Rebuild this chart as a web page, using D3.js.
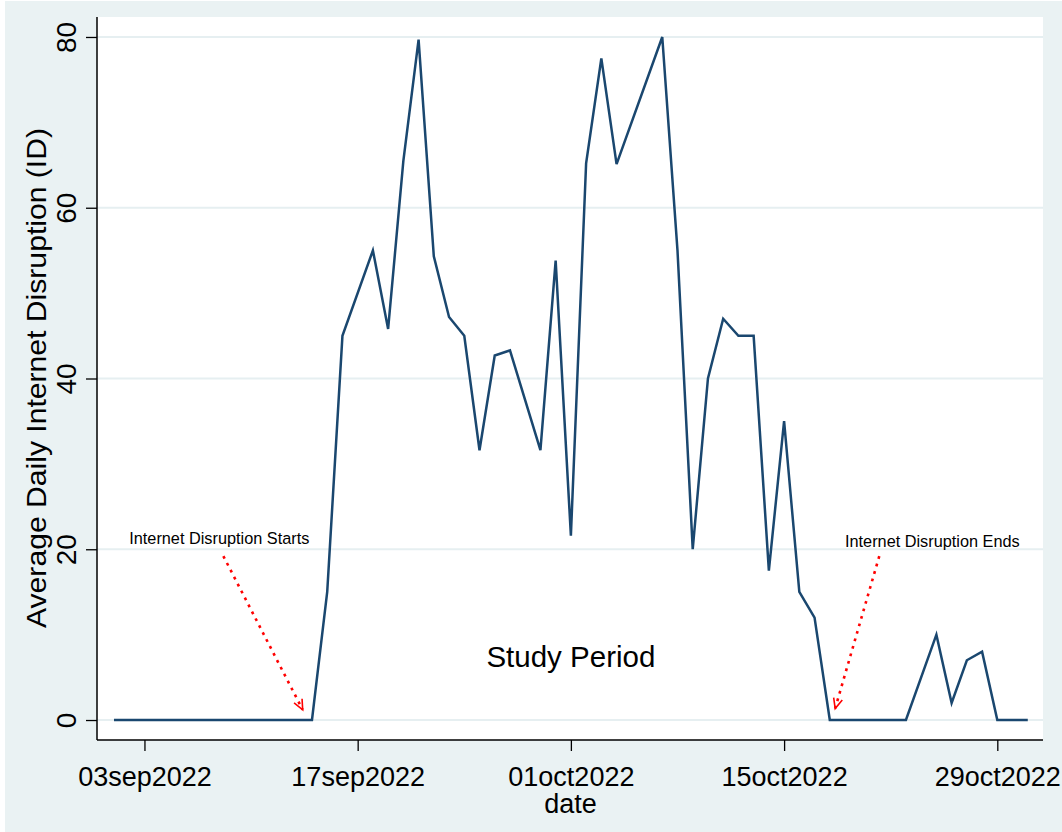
<!DOCTYPE html>
<html>
<head>
<meta charset="utf-8">
<script src="https://cdn.jsdelivr.net/npm/d3@7/dist/d3.min.js"></script>
<style>
  html, body { margin: 0; padding: 0; background: #ffffff; }
  svg { display: block; }
  text { font-family: "Liberation Sans", Arial, sans-serif; fill: #000; }
</style>
</head>
<body>
<svg id="chart" width="1062" height="832"></svg>
<script>
// Daily average internet disruption (ID), Sep–Oct 2022
const dates = [
  "2022-09-01","2022-09-02","2022-09-03","2022-09-04","2022-09-05","2022-09-06","2022-09-07",
  "2022-09-08","2022-09-09","2022-09-10","2022-09-11","2022-09-12","2022-09-13","2022-09-14",
  "2022-09-15","2022-09-16","2022-09-18","2022-09-19","2022-09-20","2022-09-21","2022-09-22",
  "2022-09-23","2022-09-24","2022-09-25","2022-09-26","2022-09-27","2022-09-29","2022-09-30",
  "2022-10-01","2022-10-02","2022-10-03","2022-10-04","2022-10-07","2022-10-08","2022-10-09",
  "2022-10-10","2022-10-11","2022-10-12","2022-10-13","2022-10-14","2022-10-15","2022-10-16",
  "2022-10-17","2022-10-18","2022-10-19","2022-10-20","2022-10-21","2022-10-22","2022-10-23",
  "2022-10-25","2022-10-26","2022-10-27","2022-10-28","2022-10-29","2022-10-30","2022-10-31"
];
const disruption = [
  0,0,0,0,0,0,0,
  0,0,0,0,0,0,0,
  15,45,55,45.8,65.5,79.7,54.3,
  47.2,45,31.6,42.7,43.3,31.6,53.8,
  21.6,65.2,77.5,65.1,80,55,20,
  40,47,45,45,17.5,35,15,
  12,0,0,0,0,0,0,
  10,2,7,8,0,0,0
];

// Axis ticks
const xTickDates = ["2022-09-03","2022-09-17","2022-10-01","2022-10-15","2022-10-29"];
const xTickLabels = ["03sep2022","17sep2022","01oct2022","15oct2022","29oct2022"];
const yTicks = [0, 20, 40, 60, 80];

// Annotations (anchored in data coordinates)
const noteLabels = ["Internet Disruption Starts", "Internet Disruption Ends"];
const noteTextAt = [["2022-09-02T00:00", 20.6], ["2022-10-19T00:00", 20.3]];
const noteArrowFrom = [["2022-09-08T04:20", 19.2], ["2022-10-21T06:00", 19.2]];
const noteArrowTo = [["2022-09-13T09:20", 1.2], ["2022-10-18T08:30", 1.35]];
const periodLabel = "Study Period";
const periodAt = ["2022-10-01T00:00", 6.2];

const parse = s => new Date(s.length > 10 ? s + "Z" : s + "T00:00Z");
const DAY = 864e5;
const t0 = parse("2022-09-01").getTime();

const svg = d3.select("#chart");
const W = 1062, H = 832;
const plot = { left: 97, right: 1043, top: 17, bottom: 740 };

// Graph region background
svg.append("rect").attr("x", 5).attr("y", 1).attr("width", W - 5).attr("height", H - 1)
  .attr("fill", "#eaf2f3");
svg.append("rect").attr("x", plot.left).attr("y", plot.top)
  .attr("width", plot.right - plot.left).attr("height", plot.bottom - plot.top)
  .attr("fill", "#ffffff");

const x = d3.scaleUtc()
  .domain([new Date(t0 - 1.116 * DAY), new Date(t0 + 61.0 * DAY)])
  .range([plot.left, plot.right]);
const y = d3.scaleLinear()
  .domain([-2.34, 82.34])
  .range([plot.bottom, plot.top]);

// Horizontal grid lines
svg.append("g").selectAll("line").data(yTicks).join("line")
  .attr("x1", plot.left).attr("x2", plot.right)
  .attr("y1", d => y(d)).attr("y2", d => y(d))
  .attr("stroke", "#e6eff1").attr("stroke-width", 2);

// Series line
const series = dates.map((d, i) => ({ date: parse(d), value: disruption[i] }));
svg.append("path").datum(series)
  .attr("fill", "none")
  .attr("stroke", "#1a476f")
  .attr("stroke-width", 2.5)
  .attr("stroke-linejoin", "miter")
  .attr("d", d3.line().x(d => x(d.date)).y(d => y(d.value)));

// Y axis
const yAxis = svg.append("g").attr("transform", `translate(${plot.left},0)`)
  .call(d3.axisLeft(y).tickValues(yTicks).tickSize(11).tickPadding(0).tickFormat(d3.format("d")));
yAxis.select(".domain").attr("d", `M0,${plot.top}V${plot.bottom}`).attr("stroke", "#000").attr("stroke-width", 1.5);
yAxis.selectAll(".tick line").attr("stroke", "#000").attr("stroke-width", 1.3);
yAxis.selectAll(".tick text")
  .attr("x", 0).attr("dy", 0).attr("y", 0)
  .attr("text-anchor", "middle")
  .attr("font-size", 28)
  .attr("fill", "#000")
  .style("font-family", "'Liberation Sans', Arial, sans-serif")
  .attr("transform", "translate(-21,0) rotate(-90)");

// X axis
const xAxis = svg.append("g").attr("transform", `translate(0,${plot.bottom})`)
  .call(d3.axisBottom(x).tickValues(xTickDates.map(parse)).tickSize(11).tickPadding(0)
    .tickFormat((d, i) => xTickLabels[i]));
xAxis.select(".domain").attr("d", `M${plot.left},0H${plot.right}`).attr("stroke", "#000").attr("stroke-width", 1.5);
xAxis.selectAll(".tick line").attr("stroke", "#000").attr("stroke-width", 1.3);
xAxis.selectAll(".tick text")
  .attr("y", 45.5).attr("dy", 0)
  .attr("font-size", 27)
  .attr("fill", "#000")
  .style("font-family", "'Liberation Sans', Arial, sans-serif");

// Axis titles
svg.append("text")
  .attr("transform", `translate(46,378) rotate(-90)`)
  .attr("text-anchor", "middle")
  .attr("font-size", 28)
  .attr("textLength", 500).attr("lengthAdjust", "spacingAndGlyphs")
  .text("Average Daily Internet Disruption (ID)");
svg.append("text")
  .attr("x", (plot.left + plot.right) / 2 + 0.5).attr("y", 813)
  .attr("text-anchor", "middle")
  .attr("font-size", 27)
  .text("date");

// Annotations
svg.append("text")
  .attr("x", x(parse(periodAt[0]))).attr("y", y(periodAt[1]))
  .attr("text-anchor", "middle").attr("font-size", 29.5)
  .text(periodLabel);

noteLabels.forEach((lab, i) => {
  svg.append("text")
    .attr("x", x(parse(noteTextAt[i][0]))).attr("y", y(noteTextAt[i][1]))
    .attr("font-size", 16.3)
    .text(lab);

  const x1 = x(parse(noteArrowFrom[i][0])), y1 = y(noteArrowFrom[i][1]);
  const x2 = x(parse(noteArrowTo[i][0])), y2 = y(noteArrowTo[i][1]);
  svg.append("line")
    .attr("x1", x1).attr("y1", y1).attr("x2", x2).attr("y2", y2)
    .attr("stroke", "#ff0000").attr("stroke-width", 2.6)
    .attr("stroke-dasharray", "2.8,5");
  // open arrow head
  const ang = Math.atan2(y2 - y1, x2 - x1);
  const L = 11, spread = 0.42;
  const p = a => [x2 - L * Math.cos(ang + a), y2 - L * Math.sin(ang + a)];
  const [a1, a2] = [p(spread), p(-spread)];
  svg.append("path")
    .attr("d", `M${a1[0]},${a1[1]}L${x2},${y2}L${a2[0]},${a2[1]}`)
    .attr("fill", "none").attr("stroke", "#ff0000").attr("stroke-width", 1.6);
});
</script>
</body>
</html>
